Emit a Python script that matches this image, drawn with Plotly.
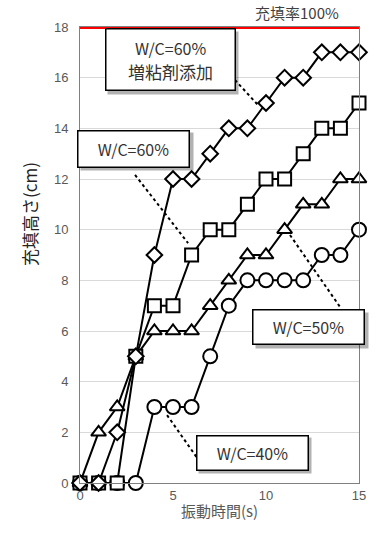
import plotly.graph_objects as go

t = list(range(16))
wc60_thick = [0, 0, 2, 5, 9, 12, 12, 13, 14, 14, 15, 16, 16, 17, 17, 17]
wc60 = [0, 0, 0, 5, 7, 7, 9, 10, 10, 11, 12, 12, 13, 14, 14, 15]
wc50 = [0, 2, 3, 5, 6, 6, 6, 7, 8, 9, 9, 10, 11, 11, 12, 12]
wc40 = [0, 0, 0, 0, 3, 3, 3, 5, 7, 8, 8, 8, 8, 9, 9, 10]
full_height = 18

JP = "Noto Sans CJK JP"
fig = go.Figure()

series = [
    (wc40, "circle", 14),
    (wc50, "triangle-up", 13),
    (wc60, "square", 13),
    (wc60_thick, "diamond", 12),
]
for ys, sym, sz in series:
    fig.add_trace(go.Scatter(
        x=t, y=ys, mode="lines+markers",
        line=dict(color="black", width=2),
        marker=dict(symbol=sym, size=sz, color="white",
                    line=dict(color="black", width=2)),
        cliponaxis=False, showlegend=False))

fig.add_trace(go.Scatter(
    x=[t[0], t[-1]], y=[full_height, full_height], mode="lines",
    line=dict(color="#ff0000", width=4), cliponaxis=False, showlegend=False))

leaders = [
    ((8.33, 15.91), (9.62, 14.88)),
    ((2.96, 12.16), (5.81, 9.47)),
    ((11.29, 9.79), (13.98, 6.95)),
    ((4.68, 2.68), (6.45, 0.83)),
]
for (x0, y0), (x1, y1) in leaders:
    fig.add_shape(type="line", x0=x0, y0=y0, x1=x1, y1=y1, xref="x", yref="y",
                  line=dict(color="black", width=2, dash="dot"))

boxes = [
    ("", 4.84, 16.71, 126, 58),
    ("W/C=60%", 2.9, 13.19, 108, 33),
    ("W/C=50%", 12.29, 6.14, 108, 31),
    ("W/C=40%", 9.27, 1.20, 108, 31),
]
anns = []
for txt, x, y, w, h in boxes:
    anns.append(dict(text="", x=x, y=y, xref="x", yref="y", showarrow=False,
                     width=w, height=h, bgcolor="rgba(0,0,0,0.3)",
                     borderpad=2, xshift=3, yshift=-3))
    anns.append(dict(text=txt, x=x, y=y, xref="x", yref="y", showarrow=False,
                     width=w, height=h, bgcolor="white", bordercolor="black",
                     borderwidth=1.5, borderpad=1,
                     font=dict(family=JP, size=16, color="#333333")))
# two-line label of the first box as separate texts
anns.append(dict(text="W/C=60%", x=4.84, y=16.71, xref="x", yref="y",
                 showarrow=False, yshift=12,
                 font=dict(family=JP, size=16, color="#333333")))
anns.append(dict(text="増粘剤添加", x=4.84, y=16.71, xref="x", yref="y",
                 showarrow=False, yshift=-12,
                 font=dict(family=JP, size=17, color="#333333")))
anns.append(dict(text="充填率100%", x=11.67, y=full_height, xref="x", yref="y",
                 showarrow=False, yanchor="bottom", yshift=2,
                 font=dict(family=JP, size=15, color="#404040")))
anns.append(dict(text="充填高さ(cm)", x=-0.179, y=0.59, xref="paper", yref="paper",
                 showarrow=False, textangle=-90, xanchor="center", yanchor="middle",
                 font=dict(family=JP, size=17, color="#222222")))

fig.update_layout(
    width=377, height=535,
    margin=dict(l=80, r=18, t=27, b=52),
    paper_bgcolor="white", plot_bgcolor="white",
    annotations=anns,
    xaxis=dict(range=[0, 15], tickvals=[0, 5, 10, 15], showgrid=False,
               showline=True, linecolor="#808080", linewidth=1, mirror=True,
               zeroline=False, ticks="",
               tickfont=dict(family="Liberation Sans", size=13, color="#595959"),
               title=dict(text="振動時間(s)", standoff=4,
                          font=dict(family=JP, size=15, color="#595959"))),
    yaxis=dict(range=[0, 18], dtick=2, showgrid=True, gridcolor="#d9d9d9",
               showline=True, linecolor="#808080", linewidth=1, mirror=True,
               zeroline=False, ticks="", ticklabelstandoff=8,
               tickfont=dict(family="Liberation Sans", size=13, color="#595959")),
)

fig.write_html("out.html", config={"displayModeBar": False},
               post_script="document.body.style.margin='0';")
